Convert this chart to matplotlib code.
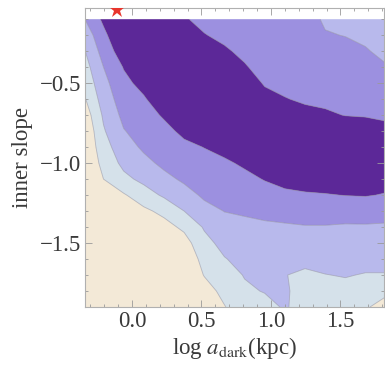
import numpy as np
import matplotlib
matplotlib.use("Agg")
import matplotlib.pyplot as plt
from matplotlib.colors import ListedColormap, BoundaryNorm

# ---- data ----
log_a_dark = [-0.35, -0.205, -0.06, 0.085, 0.23, 0.375, 0.52, 0.665,
              0.81, 0.955, 1.1, 1.245, 1.39, 1.535, 1.68, 1.825]
inner_slope = [-1.9, -1.8, -1.7, -1.6, -1.5, -1.4, -1.3, -1.2, -1.1, -1.0,
               -0.9, -0.8, -0.7, -0.6, -0.5, -0.4, -0.3, -0.2, -0.1]

# confidence level index at each grid column (bottom -> top)
col_00 = [-0.5]*12 + [-0.2, 0.3, 0.7, 1.0, 1.35, 1.8, 2.4]
col_01 = [-0.5]*7 + [0.0, 0.5, 0.8, 1.1, 1.4, 1.65, 1.95, 2.2, 2.5, 2.9, 3.25, 3.7]
col_02 = [-0.5]*6 + [-0.1, 0.4, 1.25, 1.75, 2.1, 2.45, 2.75, 3.0, 3.25, 3.55, 4.05, 4.5, 4.5]
col_03 = [-0.5]*5 + [-0.2, 0.3, 1.05, 1.75, 2.25, 2.65, 2.9, 3.15, 3.4, 3.8, 4.3, 4.5, 4.5, 4.5]
col_04 = [-0.5]*4 + [-0.35, 0.15, 0.75, 1.65, 2.25, 2.7, 2.95, 3.25, 3.6, 4.1, 4.5, 4.5, 4.5, 4.5, 4.5]
col_05 = [-0.5]*3 + [-0.4, 0.1, 0.7, 1.5, 2.15, 2.65, 2.95, 3.3, 3.7, 4.2, 4.5, 4.5, 4.5, 4.5, 4.5, 3.6]
col_06 = [-0.45, 0.05, 0.55, 0.9, 1.2, 1.6, 2.2, 2.65, 2.95, 3.2, 3.52, 4.0, 4.5, 4.5, 4.5, 4.5, 4.05, 3.55, 3.2]
col_07 = [0.45, 0.8, 1.1, 1.45, 1.8, 2.15, 2.52, 2.8, 3.1, 3.35, 3.8, 4.3, 4.5, 4.5, 4.5, 4.15, 3.65, 3.25, 2.95]
col_08 = [1.15, 1.35, 1.55, 1.8, 2.05, 2.3, 2.6, 2.9, 3.25, 3.65, 4.15, 4.5, 4.5, 4.5, 4.1, 3.6, 3.25, 2.9, 2.7]
col_09 = [1.2, 1.55, 1.75, 1.95, 2.15, 2.4, 2.65, 3.1, 3.55, 4.05, 4.5, 4.5, 4.5, 3.85, 3.4, 3.1, 2.75, 2.7, 2.7]
col_10 = [1.6, 1.6, 1.55, 1.9, 2.15, 2.4, 2.8, 3.3, 3.8, 4.3, 4.5, 4.5, 4.05, 3.55, 3.2, 2.85, 2.7, 2.7, 2.7]
col_11 = [1.1, 1.2, 1.2, 1.95, 2.2, 2.45, 2.9, 3.4, 3.9, 4.4, 4.5, 4.5, 3.8, 3.35, 3.05, 2.75, 2.7, 2.7, 2.8]
col_12 = [1.1, 1.25, 1.48, 1.8, 2.1, 2.45, 2.9, 3.45, 3.95, 4.45, 4.5, 4.1, 3.6, 3.35, 3.15, 2.95, 2.75, 2.55, 2.4]
col_13 = [1.05, 1.25, 1.55, 1.85, 2.15, 2.4, 2.9, 3.52, 4.0, 4.5, 4.45, 3.95, 3.48, 3.3, 3.1, 2.9, 2.7, 2.48, 2.3]
col_14 = [0.6, 1.1, 1.45, 1.8, 2.1, 2.4, 2.95, 3.55, 4.05, 4.5, 4.35, 3.85, 3.45, 3.2, 3.0, 2.8, 2.6, 2.25, 2.0]
col_15 = [0.15, 0.7, 1.45, 1.8, 2.1, 2.4, 2.8, 3.45, 3.8, 4.15, 4.25, 3.75, 3.35, 3.1, 2.85, 2.6, 2.2, 1.95, 1.8]

levels = [-1.0, 0.5, 1.5, 2.5, 3.5, 5.0]
fill_colors = ["#f3e9d7", "#d5e1ea", "#b8b9ec", "#9c90e0", "#5c2898"]

best_fit_x = [-0.108]
best_fit_y = [-0.04]

xtick_vals = [0.0, 0.5, 1.0, 1.5]
xtick_labels = ["0.0", "0.5", "1.0", "1.5"]
ytick_vals = [-1.5, -1.0, -0.5]
ytick_labels = ["\u22121.5", "\u22121.0", "\u22120.5"]

# ---- plotting ----
plt.rcParams["font.family"] = ["Liberation Serif", "DejaVu Serif"]
plt.rcParams["mathtext.fontset"] = "stix"

fig = plt.figure(figsize=(3.85, 3.70), dpi=100)
ax = fig.add_axes([85/385, 1 - 307/370, (384 - 85)/385, (307 - 8)/370])

cols = [col_00, col_01, col_02, col_03, col_04, col_05, col_06, col_07,
        col_08, col_09, col_10, col_11, col_12, col_13, col_14, col_15]
Z = np.array(cols).T
X, Y = np.meshgrid(log_a_dark, inner_slope)

cmap = ListedColormap(fill_colors)
norm = BoundaryNorm(levels, cmap.N)
ax.contourf(X, Y, Z, levels=levels, cmap=cmap, norm=norm, antialiased=True)
ax.contour(X, Y, Z, levels=levels[1:-1], colors="#8a8a9a", linewidths=0.6, alpha=0.55)

ax.plot(best_fit_x, best_fit_y, marker="*", color="#e8352c", markersize=12,
        markeredgewidth=0, linestyle="none", clip_on=True, zorder=5)

ax.set_xlim(-0.338, 1.813)
ax.set_ylim(-1.9, -0.03)

text_color = "#3a3a3a"
fs = 16.5
ax.set_xticks(xtick_vals, xtick_labels)
ax.set_yticks(ytick_vals, ytick_labels)
ax.set_xticks(np.arange(-0.3, 1.85, 0.1), minor=True)
ax.set_yticks(np.arange(-1.9, -0.05, 0.1), minor=True)
ax.tick_params(which="both", direction="in", top=True, right=True,
               color="#9a9a9a", labelsize=fs, labelcolor=text_color, width=0.6)
ax.tick_params(which="major", length=5, pad=3)
ax.tick_params(which="minor", length=2.5)
for s in ax.spines.values():
    s.set_color("#b0b0b0")
    s.set_linewidth(0.8)

ax.set_xlabel(r"log $a_{\rm dark}$(kpc)", fontsize=fs, color=text_color, labelpad=2)
ax.set_ylabel("inner slope", fontsize=fs, color=text_color, labelpad=5)

fig.savefig("out.png", dpi=100)
